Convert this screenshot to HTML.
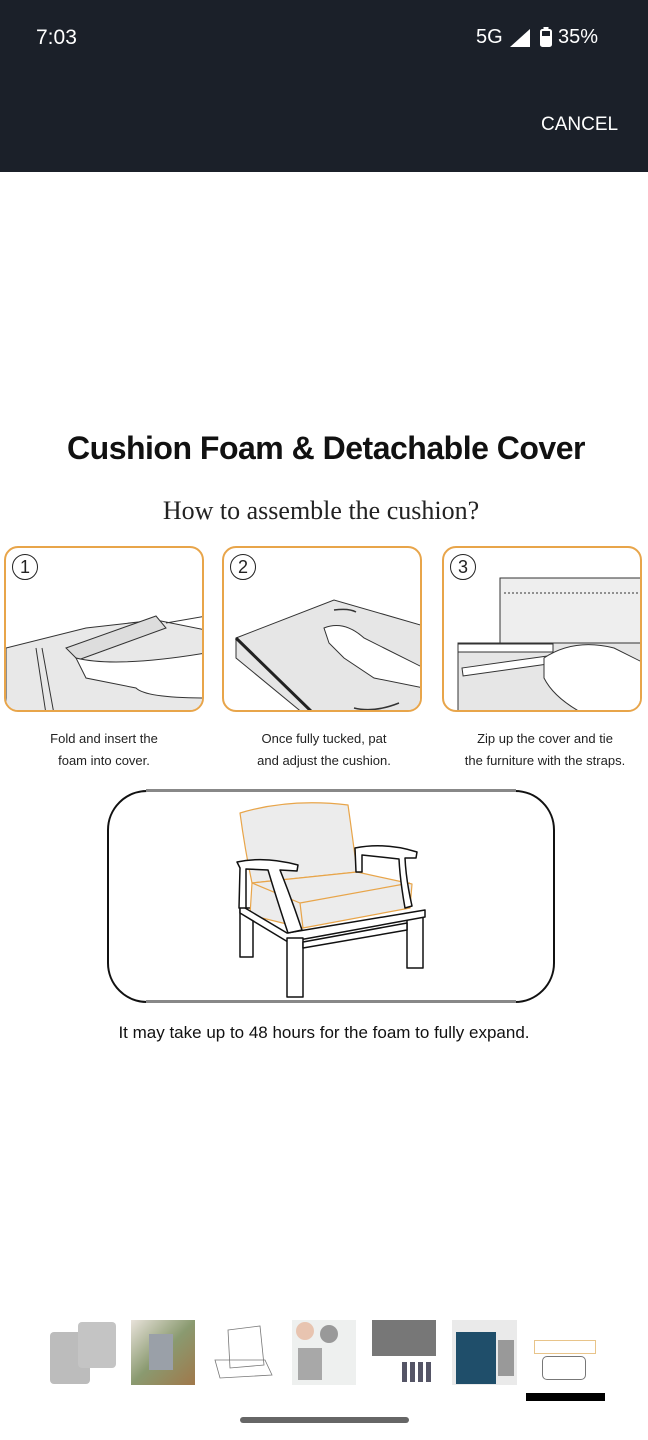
<!DOCTYPE html>
<html><head><meta charset="utf-8"><style>
html,body{margin:0;padding:0;background:#fff;}
body{width:648px;height:1440px;position:relative;overflow:hidden;font-family:"Liberation Sans",sans-serif;}
.abs{position:absolute;}
.panel{position:absolute;top:546px;width:200px;height:166px;border:2px solid #e8a54a;border-radius:14px;box-sizing:border-box;background:#fff;overflow:hidden;}
.cap{position:absolute;font-size:13px;color:#222;text-align:center;line-height:22px;}
.num{position:absolute;left:6px;top:6px;width:24px;height:24px;border:1.5px solid #222;border-radius:50%;font-size:18px;text-align:center;line-height:24px;color:#222;}
.th{position:absolute;top:1320px;height:65px;}
</style></head><body>
<div class="abs" style="left:0;top:0;width:648px;height:172px;background:#1b2029;"></div>
<div class="abs" style="left:36px;top:26px;color:#fff;font-size:21px;">7:03</div>
<div class="abs" style="left:476px;top:26px;color:#fff;font-size:20px;">5G</div>
<svg class="abs" style="left:510px;top:29px" width="20" height="18"><polygon points="0,18 20,18 20,0" fill="#fff"/></svg>
<svg class="abs" style="left:540px;top:27px" width="12" height="20"><rect x="1" y="3" width="10" height="16" rx="1.5" fill="none" stroke="#fff" stroke-width="2"/><rect x="3.5" y="0" width="5" height="3" fill="#fff"/><rect x="2" y="9" width="8" height="9" fill="#fff"/></svg>
<div class="abs" style="left:558px;top:26px;color:#fff;font-size:20px;">35%</div>
<div class="abs" style="left:541px;top:114px;color:#fff;font-size:19px;">CANCEL</div>

<div class="abs" style="left:0;top:430px;width:652px;text-align:center;font-size:32px;font-weight:bold;color:#111;letter-spacing:-0.5px;">Cushion Foam &amp; Detachable Cover</div>
<div class="abs" style="left:0;top:496px;width:642px;text-align:center;font-size:26px;font-family:'Liberation Serif',serif;color:#222;">How to assemble the cushion?</div>

<div class="panel" style="left:4px;"><div class="num">1</div>
<svg width="200" height="166" style="position:absolute;left:0;top:0">
<path d="M0,100 L80,80 L150,72 L200,82 L200,166 L0,166Z" fill="#e8e8e8" stroke="#333"/>
<path d="M60,100 L150,68 L160,80 L72,112Z" fill="#ddd" stroke="#333"/>
<path d="M70,110 Q110,120 200,105 L200,150 Q140,150 130,140 L80,130Z" fill="#fff" stroke="#333"/>
<path d="M160,75 L200,68" stroke="#333"/>
<path d="M30,100 L40,166 M36,100 L48,166" stroke="#333"/>
</svg></div>
<div class="panel" style="left:222px;"><div class="num">2</div>
<svg width="200" height="166" style="position:absolute;left:0;top:0">
<path d="M12,90 L110,52 L200,78 L200,166 L80,166 L12,110Z" fill="#e6e6e6" stroke="#333"/>
<path d="M12,90 L90,166" stroke="#222" stroke-width="3"/>
<path d="M100,80 Q120,72 140,90 L160,100 L200,120 L200,140 L150,130 L120,110 L105,95Z" fill="#fff" stroke="#333"/>
<path d="M110,62 Q125,60 132,64 M130,160 Q150,165 175,155" stroke="#333" fill="none" stroke-width="1.5"/>
</svg></div>
<div class="panel" style="left:442px;"><div class="num">3</div>
<svg width="200" height="166" style="position:absolute;left:0;top:0">
<path d="M56,30 L200,30 L200,98 L56,98Z" fill="#eee" stroke="#333"/>
<path d="M60,45 L200,45" stroke="#333" stroke-dasharray="2,2"/>
<path d="M14,95 L200,95 L200,166 L14,166Z" fill="#e6e6e6" stroke="#333"/>
<rect x="14" y="96" width="95" height="8" fill="#fff" stroke="#333"/>
<rect x="18" y="120" width="95" height="8" fill="#fff" stroke="#333" transform="rotate(-8 18 120)"/>
<path d="M100,110 Q130,90 170,100 L200,115 L200,166 L140,166 Q110,150 100,130Z" fill="#fff" stroke="#333"/>
</svg></div>

<div class="cap" style="left:4px;top:728px;width:200px;">Fold and insert the<br>foam into cover.</div>
<div class="cap" style="left:222px;top:728px;width:204px;">Once fully tucked, pat<br>and adjust the cushion.</div>
<div class="cap" style="left:442px;top:728px;width:206px;">Zip up the cover and tie<br>the furniture with the straps.</div>

<div class="abs" style="left:107px;top:790px;width:448px;height:213px;border:2px solid #111;border-radius:40px;box-sizing:border-box;"></div>
<div class="abs" style="left:146px;top:789px;width:370px;height:3px;background:#888;"></div>
<div class="abs" style="left:146px;top:1000px;width:370px;height:3px;background:#888;"></div>
<svg class="abs" style="left:100px;top:780px" width="470" height="240" stroke-linejoin="round">
<g fill="#fff" stroke="#111" stroke-width="1.5">
<rect x="140" y="128" width="13" height="49"/>
<rect x="307" y="134" width="16" height="54"/>
</g>
<path d="M140,33 Q190,18 248,25 Q253,60 257,92 L152,103 Q145,70 140,33Z" fill="#ececec" stroke="#e8a54a" stroke-width="1.2"/>
<path d="M152,103 L257,92 L312,104 L310,128 L203,148 L150,135Z" fill="#ececec" stroke="#e8a54a" stroke-width="1.2"/>
<path d="M200,123 L310,103 M200,123 L203,148 M152,103 L200,123" stroke="#e8a54a" fill="none" stroke-width="1.2"/>
<g fill="#fff" stroke="#111" stroke-width="1.5">
<path d="M140,125 L187,153 L325,130 L325,137 L188,162 L140,133Z"/>
<rect x="187" y="158" width="16" height="59"/>
<path d="M203,162 L307,143 L307,150 L203,168Z"/>
<path d="M137,82 Q165,76 198,85 L197,91 L180,90 Q192,120 202,150 L188,153 Q177,120 168,90 L146,89 L146,128 L139,128 L140,88Z"/>
<path d="M255,68 Q285,62 317,72 L316,78 L305,78 Q306,100 312,126 L305,128 Q300,100 299,79 L262,75 L262,92 L256,92Z"/>
</g>
</svg>
<div class="abs" style="left:0;top:1023px;width:672px;text-align:center;font-size:17px;color:#111;margin-left:-12px;">It may take up to 48 hours for the foam to fully expand.</div>

<div class="th" style="left:50px;width:66px;"><div class="abs" style="left:0;top:12px;width:40px;height:52px;background:#bcbcbc;border-radius:4px"></div><div class="abs" style="left:28px;top:2px;width:38px;height:46px;background:#c4c4c4;border-radius:4px"></div></div>
<div class="th" style="left:131px;width:64px;background:linear-gradient(135deg,#e8e2da 0%,#8a9a70 50%,#a0784a 100%);"><div class="abs" style="left:18px;top:14px;width:24px;height:36px;background:#9aa0a8"></div></div>
<div class="th" style="left:210px;width:66px;"><svg width="66" height="65"><path d="M18,10 L50,6 L54,45 L20,48Z M5,40 L55,40 L62,55 L10,58Z" fill="none" stroke="#777" stroke-width="0.8"/></svg></div>
<div class="th" style="left:292px;width:64px;background:#eef0ef;"><div class="abs" style="left:6px;top:28px;width:24px;height:32px;background:#a8a8a8"></div><div class="abs" style="left:28px;top:5px;width:18px;height:18px;border-radius:50%;background:#999"></div><div class="abs" style="left:4px;top:2px;width:18px;height:18px;border-radius:50%;background:#e8c4b0"></div></div>
<div class="th" style="left:372px;width:64px;background:#fff;"><div class="abs" style="left:0;top:0;width:64px;height:36px;background:#777"></div><div class="abs" style="left:30px;top:42px;width:30px;height:20px;background:repeating-linear-gradient(90deg,#556 0 5px,#fff 5px 8px)"></div></div>
<div class="th" style="left:452px;width:65px;background:#eaeaea;"><div class="abs" style="left:4px;top:12px;width:40px;height:52px;background:#1f4e6a"></div><div class="abs" style="left:46px;top:20px;width:16px;height:36px;background:#999"></div></div>
<div class="th" style="left:530px;width:68px;"><div class="abs" style="left:4px;top:20px;width:60px;height:12px;border:1px solid #e8c48a"></div><div class="abs" style="left:12px;top:36px;width:42px;height:22px;border:1px solid #777;border-radius:5px"></div></div>
<div class="abs" style="left:526px;top:1393px;width:79px;height:8px;background:#000;"></div>
<div class="abs" style="left:240px;top:1417px;width:169px;height:6px;border-radius:3px;background:#666;"></div>
</body></html>
